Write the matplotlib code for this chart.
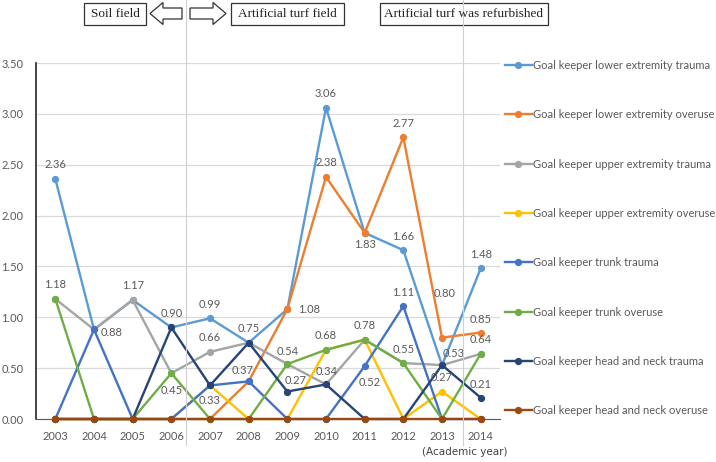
import matplotlib
matplotlib.use("Agg")
import matplotlib.pyplot as plt
from matplotlib.patches import Polygon, Rectangle
from matplotlib.lines import Line2D

YEARS = ["2003", "2004", "2005", "2006", "2007", "2008",
         "2009", "2010", "2011", "2012", "2013", "2014"]

lower_trauma = [2.36, 0.88, 1.17, 0.90, 0.99, 0.75, 1.08, 3.06, 1.83, 1.66, 0.53, 1.48]
lower_overuse = [0, 0, 0, 0, 0, 0.37, 1.08, 2.38, 1.83, 2.77, 0.80, 0.85]
upper_trauma = [1.18, 0.88, 1.17, 0.45, 0.66, 0.75, 0.54, 0.34, 0.78, 0.55, 0.53, 0.64]
upper_overuse = [0, 0, 0, 0, 0.33, 0, 0, 0.68, 0.78, 0, 0.27, 0]
trunk_trauma = [0, 0.88, 0, 0, 0.33, 0.37, 0, 0, 0.52, 1.11, 0, 0]
trunk_overuse = [1.18, 0, 0, 0.45, 0, 0, 0.54, 0.68, 0.78, 0.55, 0, 0.64]
head_trauma = [0, 0, 0, 0.90, 0.33, 0.75, 0.27, 0.34, 0, 0, 0.53, 0.21]
head_overuse = [0, 0, 0, 0, 0, 0, 0, 0, 0, 0, 0, 0]

SERIES = [
    ("Goal keeper lower extremity trauma", lower_trauma, "#5B9BD5"),
    ("Goal keeper lower extremity overuse", lower_overuse, "#ED7D31"),
    ("Goal keeper upper extremity trauma", upper_trauma, "#A5A5A5"),
    ("Goal keeper upper extremity overuse", upper_overuse, "#FFC000"),
    ("Goal keeper trunk trauma", trunk_trauma, "#4472C4"),
    ("Goal keeper trunk overuse", trunk_overuse, "#70AD47"),
    ("Goal keeper head and neck trauma", head_trauma, "#264478"),
    ("Goal keeper head and neck overuse", head_overuse, "#9E480E"),
]

# data labels: series index -> {year index: (dx, dy) offset in pixels}
LABELS = {
    0: {0: (0, 14), 1: (18, -3), 2: (0, 14), 3: (0, 14), 4: (0, 14), 5: (0, 14),
        6: (22, 0), 7: (0, 14), 8: (0, -12), 9: (0, 14), 10: (12, 12), 11: (0, 14)},
    1: {5: (-6, 11), 7: (0, 14), 9: (0, 14), 10: (3, 44), 11: (0, 13)},
    2: {0: (0, 14), 4: (0, 14), 7: (1, 13)},
    3: {10: (0, 14)},
    4: {4: (0, -15), 8: (5, -16), 9: (0, 14)},
    5: {3: (0, -17), 6: (0, 13), 7: (0, 14), 8: (0, 14), 9: (0, 14), 11: (0, 14)},
    6: {6: (8, 11), 11: (0, 13)},
}

TXT = "#595959"
FONT = "Lato"

fig = plt.figure(figsize=(7.16, 4.62), dpi=100)
W, H = 716, 462
ax = fig.add_axes([36 / W, 1 - 419 / H, 464 / W, 356 / H])

x = list(range(len(YEARS)))
for name, vals, col in SERIES:
    ax.plot(x, vals, color=col, lw=1.7, marker="o", markersize=4.2, label=name,
            clip_on=False, solid_joinstyle="round")

px = 0.72  # points per pixel at 100 dpi
for si, pos in LABELS.items():
    vals = SERIES[si][1]
    for xi, (dx, dy) in pos.items():
        ax.annotate(f"{vals[xi]:.2f}", (xi, vals[xi]), xytext=(dx * px, dy * px),
                    textcoords="offset points", ha="center", va="center",
                    fontsize=8, color=TXT, family=FONT)

ax.set_xlim(-0.5, len(YEARS) - 0.5)
ax.set_ylim(0, 3.5)
ax.set_yticks([i * 0.5 for i in range(8)])
ax.set_yticklabels([f"{i * 0.5:.2f}" for i in range(8)])
ax.set_xticks(x)
ax.set_xticklabels(YEARS)
ax.tick_params(length=0, labelsize=8, labelcolor=TXT, pad=9)
for lab in ax.get_xticklabels() + ax.get_yticklabels():
    lab.set_family(FONT)
ax.yaxis.grid(True, color="#D9D9D9", lw=0.9)
ax.set_axisbelow(True)
for s in ["top", "right"]:
    ax.spines[s].set_visible(False)
ax.spines["left"].set_color("#262626")
ax.spines["left"].set_linewidth(1.2)
ax.spines["bottom"].set_color("#595959")

leg = ax.legend(loc="upper left", bbox_to_anchor=(505 / W, 1 - 60 / H),
                bbox_transform=fig.transFigure, frameon=False,
                prop={"family": FONT, "size": 8}, labelspacing=3.45,
                handlelength=2.4, handletextpad=0.1, borderaxespad=0,
                borderpad=0)
for t in leg.get_texts():
    t.set_color(TXT)

fig.text(507 / W, 1 - 452 / H, "(Academic year)", ha="right", va="center",
         fontsize=7.5, color="#404040", family="Liberation Sans Narrow")

# period separators
for xp in [186, 463]:
    fig.add_artist(Line2D([xp / W, xp / W], [1 - 0 / H, 1 - 445 / H],
                          color="#D0D0D0", lw=0.8, transform=fig.transFigure))


def box(x0, x1, text):
    y0, y1 = 3, 25
    fig.add_artist(Rectangle((x0 / W, 1 - y1 / H), (x1 - x0) / W, (y1 - y0) / H,
                             transform=fig.transFigure, fc="white", ec="#333333", lw=0.9))
    fig.text((x0 + x1) / 2 / W, 1 - (y0 + y1) / 2 / H, text, ha="center", va="center",
             fontsize=9.5, family="Liberation Serif", color="#222222")


def block_arrow(x0, x1, left):
    yc, sh, hh, hl = 13.5, 5.5, 11, 13
    if left:
        pts = [(x0, yc), (x0 + hl, yc - hh), (x0 + hl, yc - sh), (x1, yc - sh),
               (x1, yc + sh), (x0 + hl, yc + sh), (x0 + hl, yc + hh)]
    else:
        pts = [(x1, yc), (x1 - hl, yc - hh), (x1 - hl, yc - sh), (x0, yc - sh),
               (x0, yc + sh), (x1 - hl, yc + sh), (x1 - hl, yc + hh)]
    pts = [(px_ / W, 1 - py / H) for px_, py in pts]
    fig.add_artist(Polygon(pts, closed=True, transform=fig.transFigure,
                           fc="white", ec="#333333", lw=0.9))


box(84, 146, "Soil field")
block_arrow(150, 182, left=True)
block_arrow(190, 226, left=False)
box(231, 344, "Artificial turf field")
box(380, 548, "Artificial turf was refurbished")

fig.savefig("out.png", dpi=100)
